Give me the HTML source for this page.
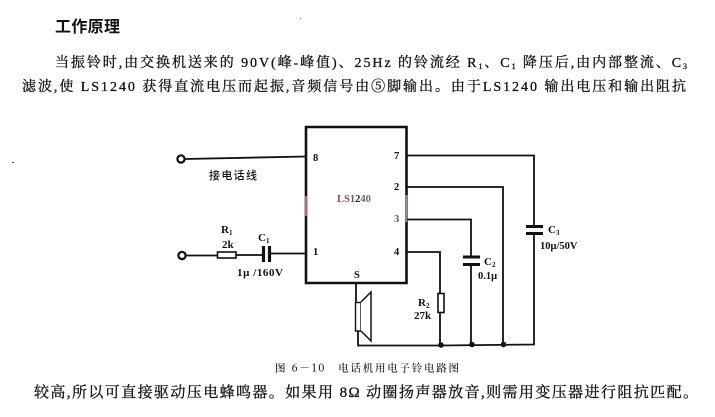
<!DOCTYPE html>
<html><head><meta charset="utf-8"><style>
html,body{margin:0;padding:0;background:#fff;width:715px;height:417px;overflow:hidden}
svg{display:block}
text{font-family:"Liberation Serif","Noto Serif CJK SC",serif;fill:#111}
.b{font-size:14px;stroke:#111;stroke-width:.3px}
.s{font-size:10.5px;font-weight:700}
.w{fill:none;stroke:#111;stroke-width:1.8}
</style></head><body>
<svg width="715" height="417" viewBox="0 0 715 417" xmlns="http://www.w3.org/2000/svg">
<rect width="715" height="417" fill="#fff"/>
<text x="55" y="32" font-size="16" font-weight="700" textLength="65" lengthAdjust="spacing" style="font-family:'Noto Sans CJK SC',sans-serif">工作原理</text>
<text class="b" x="55" y="67" textLength="632" lengthAdjust="spacing">当振铃时,由交换机送来的 90V(峰-峰值)、25Hz 的铃流经 R<tspan font-size="8" dy="2">1</tspan><tspan dy="-2">、C</tspan><tspan font-size="8" dy="2">1</tspan><tspan dy="-2"> 降压后,由内部整流、C</tspan><tspan font-size="8" dy="2">3</tspan></text>
<text class="b" x="22" y="91" textLength="664" lengthAdjust="spacing">滤波,使 LS1240 获得直流电压而起振,音频信号由⑤脚输出。由于LS1240 输出电压和输出阻抗</text>
<text class="b" x="34" y="397" style="font-size:15px" textLength="664" lengthAdjust="spacing">较高,所以可直接驱动压电蜂鸣器。如果用 8Ω 动圈扬声器放音,则需用变压器进行阻抗匹配。</text>
<text x="275" y="371.500" font-size="10.500" textLength="184" lengthAdjust="spacing" style="font-family:'Noto Serif CJK SC',serif;font-weight:500">图 6－10　电话机用电子铃电路图</text>

<!-- IC -->
<path d="M306 127H406.500V283H306Z" fill="none" stroke="#111" stroke-width="2.600"/>
<path d="M306 196V216" stroke="#a87070" stroke-width="2.600"/>
<path d="M406.500 195V222" stroke="#8a8ab0" stroke-width="2"/>
<text x="337" y="202" font-size="10.500" font-weight="700" style="fill:#964848">LS1<tspan style="fill:#222">2</tspan><tspan style="fill:#667">40</tspan></text>

<!-- left connections -->
<circle cx="181" cy="159" r="3.600" fill="#fff" stroke="#111" stroke-width="2.200"/>
<path class="w" d="M185 159L306 156.500"/>
<text x="209" y="179" font-size="11" textLength="48" lengthAdjust="spacing" style="font-family:'Noto Sans CJK SC',sans-serif;font-weight:500">接电话线</text>
<circle cx="182" cy="255.500" r="3.600" fill="#fff" stroke="#111" stroke-width="2.200"/>
<path class="w" d="M186 255.500H217M236 255H262M271 253.500H306"/>
<rect x="217.500" y="252" width="18.500" height="6" fill="#fff" stroke="#111" stroke-width="1.600"/>
<path d="M263.500 246V262M269.500 246V262" stroke="#111" stroke-width="3.200"/>
<text x="221" y="233" font-size="11" font-weight="700">R<tspan font-size="7" dy="2">1</tspan></text>
<text x="222" y="248" font-size="11" font-weight="700">2k</text>
<text x="258" y="241" font-size="11" font-weight="700">C<tspan font-size="7" dy="2">1</tspan></text>
<text x="237" y="276" font-size="11" font-weight="700" textLength="46" lengthAdjust="spacing">1μ /160V</text>

<!-- pin labels -->
<text class="s" x="313" y="161">8</text>
<text class="s" x="313" y="255">1</text>
<text class="s" x="354" y="278">S</text>
<text class="s" x="394" y="159">7</text>
<text class="s" x="394" y="190">2</text>
<text class="s" x="394" y="222" style="fill:#556">3</text>
<text class="s" x="394" y="255">4</text>

<!-- right connections -->
<path class="w" d="M407 155.500H534V226M534 233.500V344.500L441 345.500H358V331"/>
<path class="w" d="M407 187H503V344M407 219.500H471V257M471 265V344M407 252H440V293M440 313V344"/>
<path d="M526 226.500H543M526 233.500H543M463 257H480M463 264.500H480" stroke="#111" stroke-width="3"/>
<rect x="438" y="293.500" width="6" height="19" fill="#fff" stroke="#111" stroke-width="1.600"/>
<circle cx="441" cy="345" r="2.800" fill="#111"/><circle cx="472" cy="344.500" r="2.800" fill="#111"/><circle cx="503.500" cy="344.500" r="2.800" fill="#111"/>
<path class="w" d="M356 283V302"/>
<rect x="355.500" y="302.500" width="5.500" height="28.500" fill="#fff" stroke="#111" stroke-width="1.400"/>
<path d="M361 302L371 292V341L361 331" fill="#fff" stroke="#111" stroke-width="1.500"/>
<text x="418" y="306" font-size="11" font-weight="700">R<tspan font-size="7" dy="2">2</tspan></text>
<text x="414" y="319" font-size="11" font-weight="700">27k</text>
<text x="484" y="265" font-size="11" font-weight="700">C<tspan font-size="7" dy="2">2</tspan></text>
<text x="478" y="279" font-size="10.500" font-weight="700">0.1μ</text>
<text x="548" y="233" font-size="11" font-weight="700">C<tspan font-size="7" dy="2">3</tspan></text>
<text x="540" y="249" font-size="10.500" font-weight="700">10μ/50V</text>

<!-- specks -->
<rect x="12" y="162" width="2" height="1" fill="#555"/>
<rect x="300" y="18" width="1" height="1" fill="#777"/>
</svg>
</body></html>
